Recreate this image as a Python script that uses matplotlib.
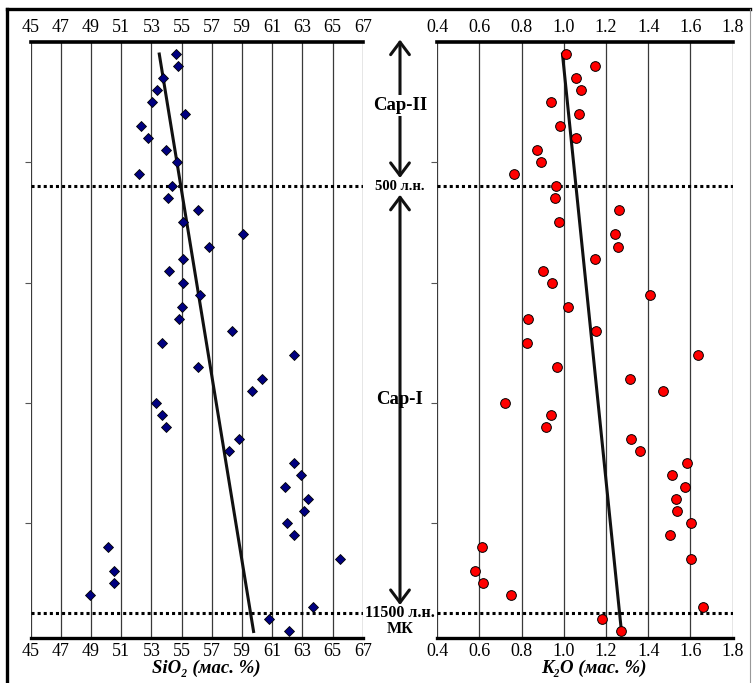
import matplotlib
matplotlib.use('Agg')
import matplotlib.pyplot as plt
import matplotlib.transforms as mtransforms
from matplotlib.lines import Line2D
import numpy as np

plt.rcParams['font.family'] = ['Liberation Serif', 'DejaVu Serif']

# sample number, top of the section = 1
sample = list(range(1, 50))
sio2 = [54.63, 54.78, 53.79, 53.35, 53.02, 55.25, 52.31, 52.79, 53.99, 54.72,
        52.16, 54.39, 54.12, 56.07, 55.11, 59.09, 56.82, 55.07, 54.19, 55.07,
        56.22, 55.00, 54.83, 58.36, 53.68, 62.43, 56.11, 60.35, 59.65, 53.28,
        53.68, 53.95, 58.78, 58.14, 62.43, 62.89, 61.85, 63.38, 63.13, 62.00,
        62.43, 50.12, 65.50, 50.50, 50.54, 48.93, 63.73, 60.81, 62.12]
k2o = [1.01, 1.15, 1.06, 1.08, 0.94, 1.07, 0.98, 1.06, 0.875, 0.89,
       0.765, 0.965, 0.96, 1.26, 0.975, 1.245, 1.255, 1.15, 0.90, 0.945,
       1.41, 1.02, 0.83, 1.155, 0.825, 1.635, 0.97, 1.315, 1.47, 0.72,
       0.94, 0.915, 1.32, 1.36, 1.585, 1.515, 1.575, 1.53, 1.535, 1.605,
       1.505, 0.61, 1.605, 0.58, 0.615, 0.75, 1.66, 1.18, 1.27]

si_ticks = [45, 47, 49, 51, 53, 55, 57, 59, 61, 63, 65, 67]
k_ticks = [0.4, 0.6, 0.8, 1.0, 1.2, 1.4, 1.6, 1.8]
k_labels = ['0.4', '0.6', '0.8', '1.0', '1.2', '1.4', '1.6', '1.8']
depth_ticks = [10, 20, 30, 40]
boundaries = [12, 47.5]   # 500 л.н. and 11500 л.н.

W, H = 754, 683
fig = plt.figure(figsize=(W / 100, H / 100), dpi=100)
fig.patch.set_facecolor('white')

top_px, bot_px = 42, 637.5
ax1 = fig.add_axes([30.7 / W, 1 - bot_px / H, 332 / W, (bot_px - top_px) / H])
ax2 = fig.add_axes([437.3 / W, 1 - bot_px / H, 295.2 / W, (bot_px - top_px) / H])


def style_axis(ax, ticks, labels, xlab, lab_x):
    ax.set_ylim(49.5, 0)
    ax.set_xlim(ticks[0], ticks[-1])
    ax.set_xticks(ticks)
    ax.set_xticklabels(labels)
    ax.tick_params(axis='x', length=0, labelsize=13,
                   top=True, labeltop=True, bottom=True, labelbottom=True)
    for t in ax.xaxis.get_major_ticks():
        t.set_pad(4)
    ax.set_yticks(depth_ticks)
    ax.set_yticklabels([])
    ax.tick_params(axis='y', length=4, width=0.8, color='#555555', direction='out')
    for x in ticks:
        ax.axvline(x, color='#3a3a3a', lw=0.9, zorder=1)
    for s in ['left', 'right']:
        ax.spines[s].set_visible(False)
    ax.spines['top'].set_linewidth(2.6)
    ax.spines['bottom'].set_linewidth(2.4)
    for b in boundaries:
        ax.plot([ticks[0], ticks[-1]], [b, b], color='black', lw=2.2,
                dashes=(1, 1), dash_capstyle='butt', zorder=2)
    ax.set_xlabel(xlab, fontsize=13.5, fontweight='bold', style='italic')
    ax.xaxis.set_label_coords(lab_x, -0.037)


style_axis(ax1, si_ticks, [str(t) for t in si_ticks], 'SiO₂ (мас. %)', 0.528)
style_axis(ax2, k_ticks, k_labels, 'K₂O (мас. %)', 0.532)

# linear trends
s_fit = np.polyfit(sample, sio2, 1)
k_fit = np.polyfit(sample, k2o, 1)
ends = np.array([sample[0], sample[-1]])
ax1.plot(np.polyval(s_fit, ends), ends, color='#111111', lw=2.2, zorder=3)
ax2.plot(np.polyval(k_fit, ends), ends, color='#111111', lw=2.2, zorder=3)

ax1.plot(sio2, sample, linestyle='none', marker='D', ms=5.0, mfc='#000080',
         mec='black', mew=0.6, zorder=4)
ax2.plot(k2o, sample, linestyle='none', marker='o', ms=7.0, mfc='#ff0000',
         mec='black', mew=0.7, zorder=4)

# middle column: stages
tr = mtransforms.blended_transform_factory(fig.transFigure, ax1.transData)
xc = 400 / W
arr = dict(arrowstyle='<->,head_length=0.6,head_width=0.45', lw=2.2,
           color='#111111', shrinkA=0, shrinkB=0, mutation_scale=15)
ax1.annotate('', xy=(xc, -0.2), xytext=(xc, 11.3), xycoords=tr,
             textcoords=tr, arrowprops=arr, annotation_clip=False)
ax1.annotate('', xy=(xc, 12.7), xytext=(xc, 46.8), xycoords=tr,
             textcoords=tr, arrowprops=arr, annotation_clip=False)
ax1.text(xc, 5.3, 'Сар-II', transform=tr, ha='center', va='center',
         fontsize=13.5, fontweight='bold',
         bbox=dict(facecolor='white', edgecolor='none', pad=1.5))
ax1.text(xc, 29.7, 'Сар-I', transform=tr, ha='center', va='center',
         fontsize=13.5, fontweight='bold')
ax1.text(xc, 12.0, '500 л.н.', transform=tr, ha='center', va='center',
         fontsize=10.5, fontweight='bold')
ax1.text(xc, 47.5, '11500 л.н.', transform=tr, ha='center', va='center',
         fontsize=11.5, fontweight='bold')
ax1.text(xc, 48.8, 'МК', transform=tr, ha='center', va='center',
         fontsize=11.5, fontweight='bold')

# outer frame
fx0, fy0, fx1 = 7 / W, 1 - 9 / H, 750 / W
fig.add_artist(Line2D([fx0, fx0], [0, fy0], color='black', lw=2.4))
fig.add_artist(Line2D([fx0, fx1], [fy0, fy0], color='black', lw=2.4))
fig.add_artist(Line2D([fx1, fx1], [0, fy0], color='#999999', lw=0.8))

fig.savefig('out.png', dpi=100)
